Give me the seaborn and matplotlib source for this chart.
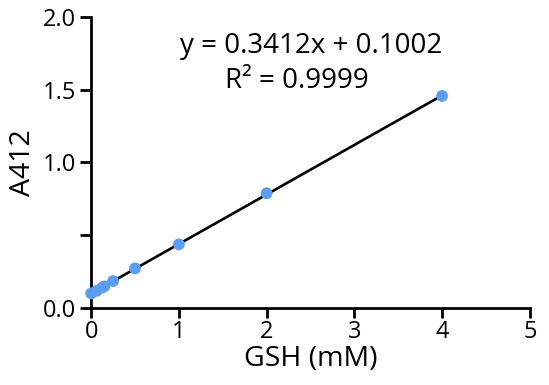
import numpy as np
import matplotlib
matplotlib.use("Agg")
import matplotlib.pyplot as plt
import seaborn as sns

# GSH standard curve
gsh_mM = [0, 0.0625, 0.125, 0.15, 0.25, 0.5, 1, 2, 4]
a412 = [0.100, 0.118, 0.140, 0.148, 0.185, 0.272, 0.437, 0.788, 1.457]
y_ticks = [0.0, 0.5, 1.0, 1.5, 2.0]
y_tick_labels = ["0.0", "", "1.0", "1.5", "2.0"]
x_ticks = [0, 1, 2, 3, 4, 5]
eq_text = "y = 0.3412x + 0.1002"
r2_text = "R\u00b2 = 0.9999"

sns.set_style("ticks")
plt.rcParams["font.family"] = ["Open Sans", "DejaVu Sans"]
plt.rcParams["text.color"] = "black"
plt.rcParams["axes.labelcolor"] = "black"

fig = plt.figure(figsize=(5.49, 3.85), dpi=100)
ax = fig.add_axes([0.166, 0.2, 0.799, 0.756])

# fitted line over the data range
slope, intercept = np.polyfit(gsh_mM, a412, 1)
xs = np.array([min(gsh_mM), max(gsh_mM)])
ax.plot(xs, slope * xs + intercept, color="black", lw=1.9, zorder=2)

sns.scatterplot(x=gsh_mM, y=a412, ax=ax, color="#5B9EEF", s=72,
                edgecolor="none", zorder=3, clip_on=False)

ax.set_xlim(0, 5)
ax.set_ylim(0, 2.0)
ax.set_xticks(x_ticks)
ax.set_yticks(y_ticks)
ax.set_yticklabels(y_tick_labels)
ax.set_xlabel("GSH (mM)", fontsize=20.5, labelpad=0)
ax.set_ylabel("A412", fontsize=20.5, labelpad=4)
ax.tick_params(axis="both", labelsize=17, width=2, color="black",
               labelcolor="black", direction="out")
ax.tick_params(axis="y", length=8, pad=3)
ax.tick_params(axis="x", length=7, pad=2)

sns.despine(ax=ax)
for side in ["left", "bottom"]:
    ax.spines[side].set_linewidth(2)
    ax.spines[side].set_color("black")

ax.text(2.51, 1.753, eq_text, ha="center", va="baseline", fontsize=20)
ax.text(2.35, 1.512, r2_text, ha="center", va="baseline", fontsize=20)

fig.savefig("out.png", dpi=100)
